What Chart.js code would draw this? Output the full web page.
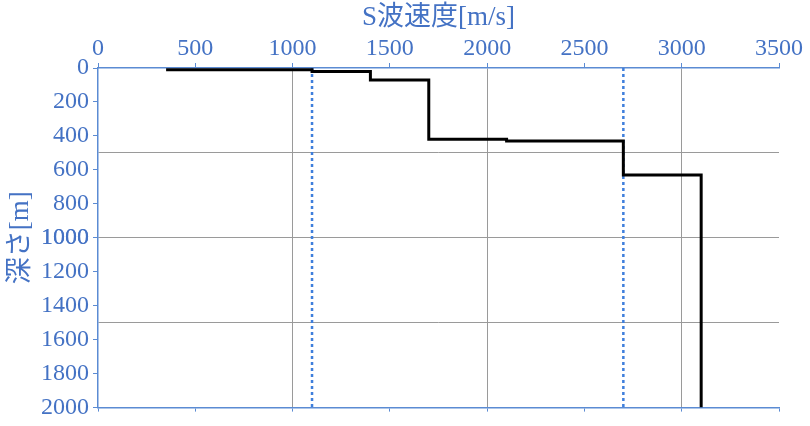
<!DOCTYPE html>
<html>
<head>
<meta charset="utf-8">
<script src="https://cdn.jsdelivr.net/npm/chart.js@4/dist/chart.umd.min.js"></script>
<style>
    html, body { margin: 0; padding: 0; background: #fff; }
    #wrap { width: 810px; height: 426px; }
</style>
</head>
<body>
<div id="wrap"><canvas id="vsChart"></canvas></div>
<script>
// S波速度プロファイル (折れ点)
const velocity = [350, 1100, 1100, 1400, 1400, 1700, 1700, 2100, 2100, 2700, 2700, 3100, 3100];
const depth = [10, 10, 20, 20, 70, 70, 420, 420, 430, 430, 630, 630, 2000];

// 点線 (基準速度)
const refVelocity = [1100, 2700];
const refDepth = [0, 2000];

const xTicks = [0, 500, 1000, 1500, 2000, 2500, 3000, 3500];
const yTicks = [0, 200, 400, 600, 800, 1000, 1200, 1400, 1600, 1800, 2000];
const yGrid = [500, 1000, 1500];

const blue = '#4472c4';
const axisBlue = '#5b8bd3';
const gridGray = '#9a9a9a';
const fontFamily = "'Liberation Serif', 'Noto Sans CJK JP', serif";

const profile = velocity.map((v, i) => ({ x: v, y: depth[i] }));

const datasets = [{
    data: profile,
    showLine: true,
    borderColor: '#000',
    borderWidth: 3,
    pointRadius: 0,
    order: 0
}];
refVelocity.forEach(v => {
    datasets.push({
        data: refDepth.map(d => ({ x: v, y: d })),
        showLine: true,
        borderColor: '#3f7fdc',
        borderWidth: 2.5,
        borderDash: [3, 3],
        pointRadius: 0,
        order: 1
    });
});

new Chart(document.getElementById('vsChart'), {
    type: 'scatter',
    data: { datasets: datasets },
    options: {
        responsive: true,
        maintainAspectRatio: false,
        animation: false,
        layout: { padding: { left: 0, top: 0, right: 31, bottom: 0 } },
        plugins: { legend: { display: false }, tooltip: { enabled: false } },
        scales: {
            x: {
                type: 'linear',
                position: 'top',
                min: xTicks[0],
                max: xTicks[xTicks.length - 1],
                afterBuildTicks: axis => { axis.ticks = xTicks.map(v => ({ value: v })); },
                afterFit: axis => { axis.height = 68; },
                title: {
                    display: true,
                    text: 'S波速度[m/s]',
                    color: blue,
                    font: { family: fontFamily, size: 27 },
                    padding: { top: 2, bottom: 0 }
                },
                ticks: {
                    color: blue,
                    font: { family: fontFamily, size: 24 },
                    padding: 0,
                    maxRotation: 0,
                    autoSkip: false,
                    callback: v => String(v)
                },
                grid: {
                    color: ctx => (ctx.tick && ctx.tick.value % 1000 === 0 && ctx.tick.value !== 0) ? gridGray : 'rgba(0,0,0,0)',
                    tickColor: axisBlue,
                    tickLength: 5
                },
                border: { color: axisBlue, width: 1.5 }
            },
            x2: {
                type: 'linear',
                position: 'bottom',
                min: xTicks[0],
                max: xTicks[xTicks.length - 1],
                afterBuildTicks: axis => { axis.ticks = xTicks.map(v => ({ value: v })); },
                afterFit: axis => { axis.height = 17; },
                ticks: { callback: () => '', font: { size: 1 }, autoSkip: false },
                grid: { drawOnChartArea: false, tickColor: axisBlue, tickLength: 4 },
                border: { color: axisBlue, width: 1.5 }
            },
            y: {
                type: 'linear',
                reverse: true,
                min: yTicks[0],
                max: yTicks[yTicks.length - 1],
                afterBuildTicks: axis => {
                    // 目盛は200毎、グリッドは500毎
                    const vals = yTicks.concat(yGrid).sort((a, b) => a - b);
                    axis.ticks = vals.map(v => ({ value: v }));
                },
                afterFit: axis => { axis.width = 98; },
                title: {
                    display: true,
                    text: '深さ[m]',
                    color: blue,
                    font: { family: fontFamily, size: 27 },
                    padding: { top: 5, bottom: 0 }
                },
                ticks: {
                    color: blue,
                    font: { family: fontFamily, size: 24 },
                    padding: 4,
                    autoSkip: false,
                    callback: v => yTicks.includes(v) ? String(v) : ''
                },
                grid: {
                    color: ctx => (ctx.tick && yGrid.includes(ctx.tick.value)) ? gridGray : 'rgba(0,0,0,0)',
                    tickColor: ctx => (ctx.tick && yTicks.includes(ctx.tick.value)) ? axisBlue : 'rgba(0,0,0,0)',
                    tickLength: 5
                },
                border: { color: axisBlue, width: 1.5 }
            }
        }
    }
});
</script>
</body>
</html>
